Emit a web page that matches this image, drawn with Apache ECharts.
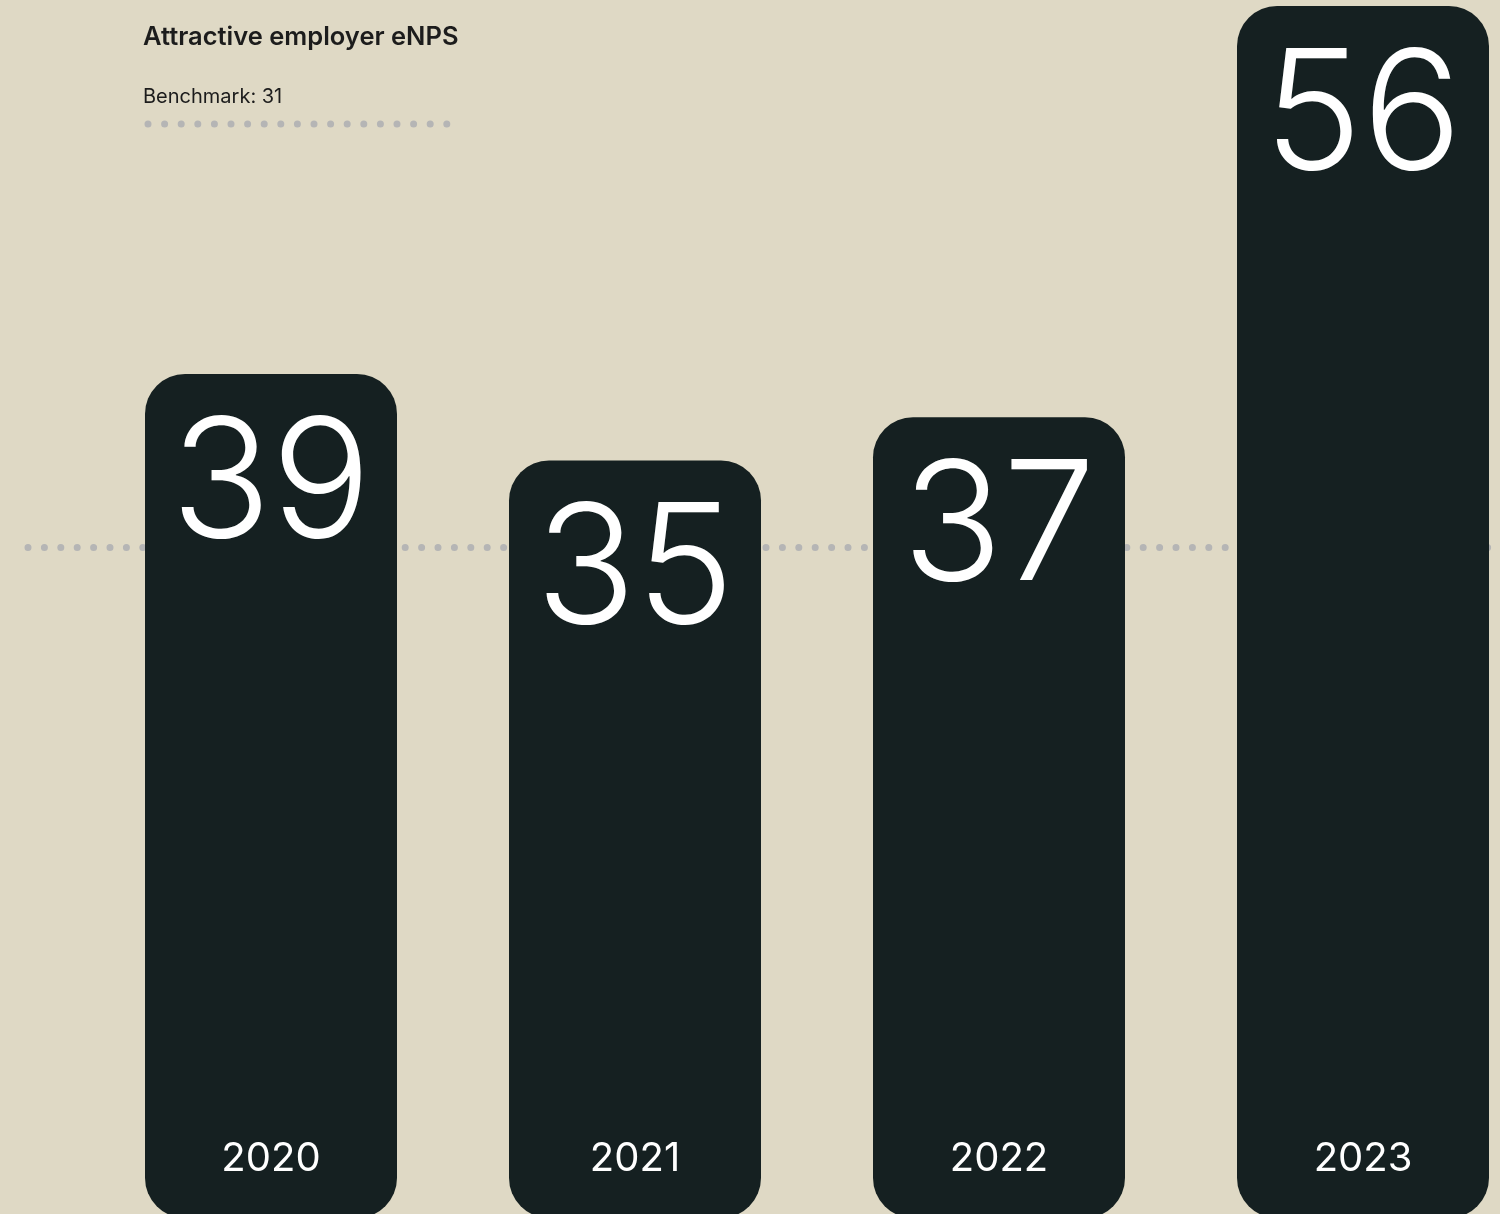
<!DOCTYPE html>
<html>
<head>
<meta charset="utf-8">
<title>Attractive employer eNPS</title>
<script src="https://cdn.jsdelivr.net/npm/echarts@6/dist/echarts.min.js"></script>
<style>
  html, body { margin: 0; padding: 0; background: #dfd9c5; }
  #chart { width: 1500px; height: 1214px; }
</style>
</head>
<body>
<div id="chart"></div>
<script>
  // data
  var years = ['2020', '2021', '2022', '2023'];
  var enps = [39, 35, 37, 56];
  var benchmark = 31;

  var barColor = '#152021';
  var dotColor = '#b5b5b5';
  var dotStyle = {
    color: dotColor,
    width: 7,
    type: [0, 16.4],
    cap: 'round'
  };

  var chart = echarts.init(document.getElementById('chart'));
  var option = {
    backgroundColor: '#dfd9c5',
    animation: false,
    title: {
      text: 'Attractive employer eNPS',
      subtext: 'Benchmark: ' + benchmark,
      left: 138,
      top: 19,
      itemGap: 37,
      textStyle: {
        fontFamily: 'Inter',
        fontSize: 25.5,
        fontWeight: 600,
        color: '#1c1c1c'
      },
      subtextStyle: {
        fontFamily: 'Inter',
        fontSize: 20,
        color: '#1c1c1c'
      }
    },
    // legend-style sample of the benchmark line
    graphic: [{
      type: 'line',
      shape: { x1: 148, y1: 124, x2: 447, y2: 124 },
      style: {
        stroke: dotColor,
        lineWidth: 7,
        lineDash: [0, 16.6],
        lineCap: 'round'
      }
    }],
    grid: {
      left: 89,
      top: 6,
      width: 1456,
      height: 1212,
      outerBoundsMode: 'none'
    },
    xAxis: {
      type: 'category',
      data: years,
      z: 10,
      axisLine: { show: false },
      axisTick: { show: false },
      axisLabel: {
        inside: true,
        margin: 39,
        color: '#ffffff',
        fontFamily: 'Inter',
        fontSize: 40
      }
    },
    yAxis: {
      type: 'value',
      min: 0,
      max: 56,
      show: false,
      splitLine: { show: false }
    },
    series: [{
      type: 'bar',
      data: enps,
      barWidth: 252,
      z: 2,
      itemStyle: {
        color: barColor,
        borderRadius: 40
      },
      label: {
        show: true,
        position: 'insideTop',
        distance: 30,
        color: '#ffffff',
        fontFamily: 'Inter',
        fontWeight: 300,
        fontSize: 166
      },
      markLine: {
        z: 1,
        silent: true,
        symbol: 'none',
        label: { show: false },
        lineStyle: dotStyle,
        data: [[{ x: 28, yAxis: benchmark }, { x: 1500, yAxis: benchmark }]]
      }
    }]
  };
  chart.setOption(option);
</script>
</body>
</html>
